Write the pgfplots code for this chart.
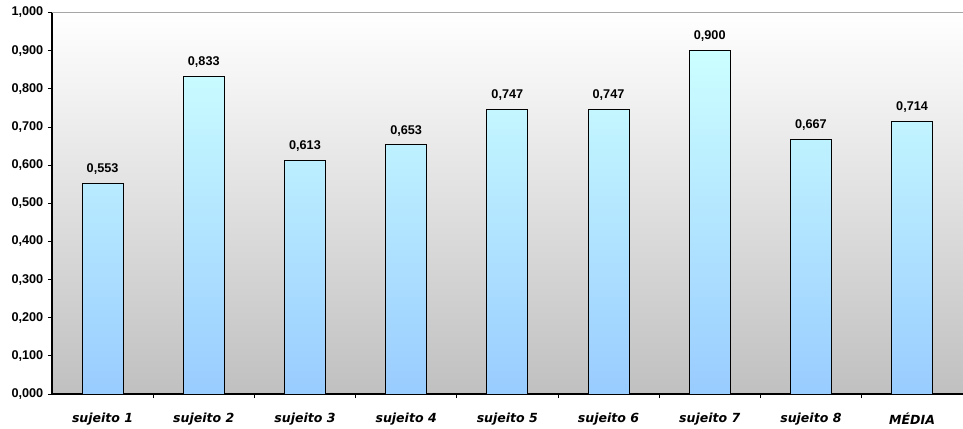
\documentclass[border=0pt]{standalone}
\usepackage{pgfplots}
\pgfplotsset{compat=1.18}
\usepackage{fontspec}
\setmainfont{Liberation Sans}
\newfontfamily\dejavu{DejaVu Sans}
\definecolor{barTop}{HTML}{CCFFFF}
\definecolor{barBot}{HTML}{99CCFF}
\definecolor{bgBot}{HTML}{C0C0C0}
\begin{document}
\begin{tikzpicture}
\begin{axis}[
  name=ax,
  scale only axis,
  width=683pt, height=286.1pt,
  xmin=-0.5, xmax=8.5,
  ymin=0, ymax=1,
  axis x line*=bottom,
  axis y line*=left,
  axis line style={black, line width=0.8pt},
  axis background/.style={shade, top color=white, bottom color=bgBot},
  xtick={0,...,8},
  xticklabels={sujeito 1,sujeito 2,sujeito 3,sujeito 4,sujeito 5,sujeito 6,sujeito 7,sujeito 8,MÉDIA},
  minor xtick={0.5,1.5,...,7.5},
  major x tick style={draw=none},
  minor x tick style={black, line width=0.6pt},
  minor tick length=3pt,
  major tick length=3pt,
  tick align=outside,
  ytick={0,0.1,...,1.0001},
  y tick style={black, line width=0.6pt},
  xticklabel style={font=\dejavu\bfseries\itshape\fontsize{9.4}{10}\selectfont, yshift=-8pt},
  yticklabel style={font=\bfseries\fontsize{9.5}{10}\selectfont,
    /pgf/number format/.cd, fixed, fixed zerofill, precision=3, use comma, 1000 sep={}, assume math mode=true},
  ybar, bar width=0.405,
  nodes near coords,
  nodes near coords style={font=\bfseries\fontsize{9.5}{10}\selectfont, yshift=3pt,
    /pgf/number format/.cd, fixed, fixed zerofill, precision=3, use comma, 1000 sep={}, assume math mode=true},
  clip=false,
]
\addplot[ybar, draw=black, line width=0.6pt, top color=barTop, bottom color=barBot] coordinates {
  (0,0.553) (1,0.833) (2,0.613) (3,0.653) (4,0.747) (5,0.747) (6,0.900) (7,0.667) (8,0.714)
};
\draw[gray!70, line width=0.7pt] (axis cs:-0.5,1) -- (axis cs:8.5,1);
\end{axis}
\pgfresetboundingbox
\path (-39pt,-25.5pt) rectangle (683.25pt,295.5pt);
\end{tikzpicture}
\end{document}
